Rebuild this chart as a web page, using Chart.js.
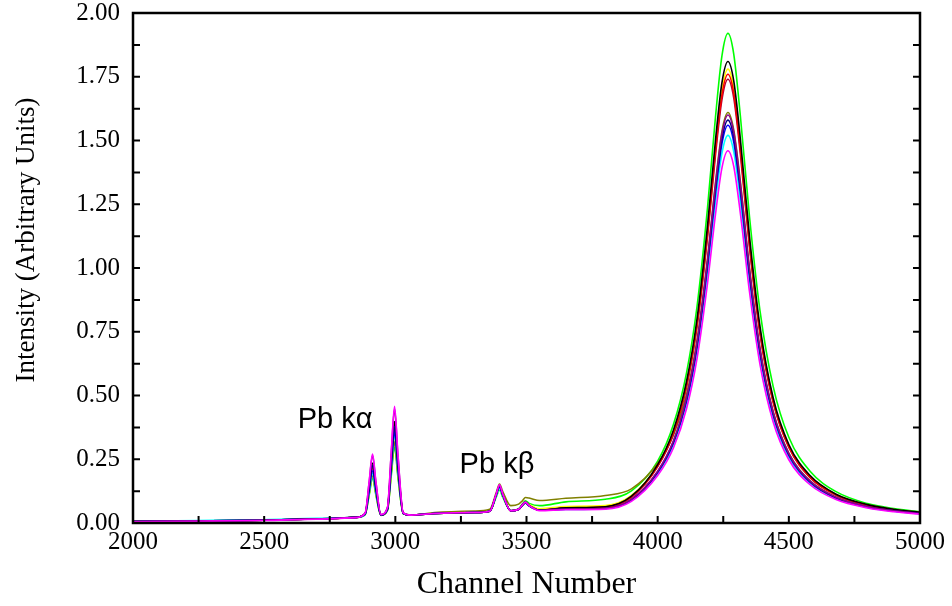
<!DOCTYPE html>
<html>
<head>
<meta charset="utf-8">
<script src="https://cdn.jsdelivr.net/npm/chart.js@4.4.1/dist/chart.umd.min.js"></script>
<style>
  html, body { margin: 0; padding: 0; background: #fff; }
  #wrap { width: 952px; height: 606px; }
</style>
</head>
<body>
<div id="wrap"><canvas id="spectrumChart" width="952" height="606"></canvas></div>
<script>
const channels = [2000, 2250, 2500, 2700, 2850, 2885, 2900, 2913, 2926, 2945,
    2970, 2985, 2997, 3010, 3030, 3060, 3150, 3300, 3360, 3385,
    3397, 3410, 3440, 3470, 3485, 3496, 3510, 3550, 3650, 3800,
    3900, 4000, 4060, 4110, 4150, 4190, 4220, 4245, 4268, 4290,
    4315, 4350, 4390, 4440, 4500, 4580, 4680, 4800, 4900, 5000];

// intensities (arbitrary units), one array per spectrum
const magenta = [.005, .007, .010, .015, .021, .039, .160, .270, .162, .033, .061, .288, .458, .268, .040, .031, .037, .041, .046, .116, .150, .113, .048, .054, .072, .082, .069, .048, .052, .054, .085, .186, .294, .448, .645, .940, 1.207, 1.393, 1.46, 1.399, 1.216, .907, .622, .397, .248, .151, .092, .059, .044, .035];
const purple = [.006, .008, .011, .016, .022, .039, .157, .265, .159, .033, .061, .282, .448, .263, .040, .031, .037, .041, .046, .113, .145, .110, .048, .054, .071, .081, .068, .050, .055, .058, .093, .203, .322, .491, .707, 1.030, 1.323, 1.526, 1.60, 1.533, 1.333, .994, .682, .435, .272, .165, .101, .064, .048, .037];
const navy = [.006, .008, .011, .016, .022, .036, .135, .225, .137, .032, .055, .239, .378, .224, .038, .031, .037, .041, .046, .113, .145, .110, .048, .054, .071, .081, .068, .050, .055, .057, .092, .201, .318, .485, .698, 1.018, 1.307, 1.507, 1.58, 1.514, 1.316, .981, .673, .430, .269, .163, .099, .063, .048, .037];
const black = [.006, .008, .011, .016, .022, .037, .141, .235, .143, .032, .057, .252, .398, .235, .039, .031, .037, .041, .046, .113, .145, .110, .048, .054, .072, .082, .069, .050, .060, .064, .105, .229, .364, .555, .800, 1.166, 1.497, 1.727, 1.81, 1.734, 1.508, 1.124, .771, .492, .308, .187, .113, .072, .054, .042];
const blue = [.006, .008, .011, .016, .022, .035, .124, .205, .126, .031, .053, .227, .358, .212, .038, .031, .037, .041, .046, .110, .140, .107, .048, .053, .070, .079, .067, .050, .054, .057, .091, .198, .314, .478, .690, 1.005, 1.290, 1.488, 1.56, 1.494, 1.299, .969, .665, .424, .265, .161, .098, .063, .047, .037];
const cyan = [.006, .010, .013, .018, .022, .034, .119, .195, .121, .031, .053, .221, .348, .207, .037, .031, .037, .041, .046, .106, .135, .104, .048, .053, .070, .079, .067, .050, .053, .056, .089, .193, .306, .466, .672, .979, 1.257, 1.450, 1.52, 1.456, 1.266, .944, .648, .413, .258, .157, .096, .061, .046, .036];
const red = [.006, .008, .011, .016, .022, .036, .130, .215, .132, .032, .054, .233, .368, .218, .038, .031, .037, .041, .046, .113, .145, .110, .048, .053, .070, .079, .067, .050, .059, .063, .102, .223, .354, .540, .778, 1.133, 1.456, 1.679, 1.76, 1.686, 1.466, 1.093, .750, .479, .299, .181, .110, .070, .052, .041];
const darkRed = [.006, .008, .011, .016, .022, .036, .135, .225, .137, .032, .055, .236, .373, .221, .038, .031, .037, .041, .046, .113, .145, .110, .048, .053, .070, .079, .067, .050, .059, .062, .101, .221, .350, .533, .769, 1.121, 1.439, 1.660, 1.74, 1.667, 1.449, 1.081, .741, .473, .296, .179, .109, .069, .052, .040];
const olive = [.006, .008, .011, .016, .022, .034, .113, .185, .115, .031, .050, .203, .318, .190, .037, .031, .041, .047, .054, .120, .153, .122, .068, .074, .088, .100, .098, .088, .097, .108, .134, .234, .344, .504, .717, 1.037, 1.331, 1.536, 1.61, 1.542, 1.341, 1.000, .686, .438, .274, .166, .101, .064, .048, .038];
const yellow = [.006, .008, .011, .016, .022, .034, .113, .185, .115, .031, .051, .209, .328, .196, .037, .031, .037, .041, .046, .106, .135, .104, .048, .053, .070, .079, .072, .056, .065, .068, .108, .226, .358, .546, .787, 1.146, 1.472, 1.698, 1.78, 1.705, 1.483, 1.105, .758, .484, .303, .184, .112, .071, .053, .041];
const green = [.006, .008, .011, .016, .022, .033, .107, .175, .109, .030, .049, .191, .298, .179, .036, .031, .037, .041, .046, .103, .130, .100, .048, .056, .075, .087, .077, .068, .083, .093, .126, .243, .386, .589, .849, 1.236, 1.588, 1.832, 1.92, 1.839, 1.599, 1.202, .833, .537, .336, .204, .123, .076, .057, .044];

// first one is drawn on top
const spectra = [
    { values: magenta, color: '#ff00ff' },
    { values: purple, color: '#8b008b' },
    { values: navy, color: '#000080' },
    { values: black, color: '#000000' },
    { values: blue, color: '#0000ff' },
    { values: cyan, color: '#00ffff' },
    { values: red, color: '#ff0000' },
    { values: darkRed, color: '#b00030' },
    { values: olive, color: '#808000' },
    { values: yellow, color: '#ffff00' },
    { values: green, color: '#00ff00' }
];

// peak labels: [text, channel, intensity at baseline]
const peakLabels = [
    ['Pb k\u03b1', 2628, 0.372],
    ['Pb k\u03b2', 3245, 0.196]
];

const xTitle = 'Channel Number';
const yTitle = 'Intensity (Arbitrary Units)';

const frameAndTicks = {
    id: 'frameAndTicks',
    afterDraw(chart) {
        const ctx = chart.ctx;
        const area = chart.chartArea;
        const xs = chart.scales.x;
        const ys = chart.scales.y;
        ctx.save();
        ctx.strokeStyle = '#000';
        ctx.lineWidth = 2;
        ctx.beginPath();
        // inward ticks on bottom
        for (let c = 2250; c < 5000; c += 250) {
            const px = xs.getPixelForValue(c);
            ctx.moveTo(px, area.bottom);
            ctx.lineTo(px, area.bottom - 7);
        }
        // inward ticks on left and right
        for (let v = 0.125; v < 2; v += 0.125) {
            const py = ys.getPixelForValue(v);
            ctx.moveTo(area.left, py);
            ctx.lineTo(area.left + 7, py);
            ctx.moveTo(area.right, py);
            ctx.lineTo(area.right - 7, py);
        }
        ctx.stroke();
        ctx.lineWidth = 2.5;
        ctx.strokeRect(area.left, area.top, area.right - area.left, area.bottom - area.top);

        // axis titles
        ctx.fillStyle = '#000';
        ctx.textAlign = 'center';
        ctx.textBaseline = 'alphabetic';
        ctx.font = '32px "Liberation Serif", "Times New Roman", serif';
        ctx.fillText(xTitle, (area.left + area.right) / 2, 593);
        ctx.save();
        ctx.translate(34, 240);
        ctx.rotate(-Math.PI / 2);
        ctx.font = '27px "Liberation Serif", "Times New Roman", serif';
        ctx.fillText(yTitle, 0, 0);
        ctx.restore();

        // peak annotations
        ctx.textAlign = 'left';
        ctx.font = '29px "Liberation Sans", Arial, sans-serif';
        peakLabels.forEach(([text, c, v]) => {
            ctx.fillText(text, xs.getPixelForValue(c), ys.getPixelForValue(v));
        });
        ctx.restore();
    }
};

const ctx = document.getElementById('spectrumChart').getContext('2d');
const spectrumChart = new Chart(ctx, {
    type: 'line',
    data: {
        datasets: spectra.map(s => ({
            data: channels.map((c, i) => ({ x: c, y: s.values[i] })),
            borderColor: s.color,
            borderWidth: 1.6,
            pointRadius: 0,
            fill: false,
            cubicInterpolationMode: 'monotone'
        }))
    },
    options: {
        responsive: false,
        animation: false,
        layout: { padding: { top: 13, right: 31, left: 0, bottom: 0 } },
        plugins: {
            legend: { display: false },
            tooltip: { enabled: false }
        },
        scales: {
            x: {
                type: 'linear',
                min: 2000,
                max: 5000,
                grid: { display: false, drawTicks: false },
                border: { display: false },
                ticks: {
                    stepSize: 500,
                    padding: 7,
                    color: '#000',
                    maxRotation: 0,
                    font: { family: '"Liberation Serif", "Times New Roman", serif', size: 25, lineHeight: 1 },
                    callback: v => String(v)
                },
                afterFit: scale => { scale.height = 83; }
            },
            y: {
                min: 0,
                max: 2,
                grid: { display: false, drawTicks: false },
                border: { display: false },
                ticks: {
                    stepSize: 0.25,
                    padding: 13,
                    color: '#000',
                    font: { family: '"Liberation Serif", "Times New Roman", serif', size: 25, lineHeight: 1 },
                    callback: v => v.toFixed(2)
                },
                afterFit: scale => {
                    scale.width = 133;
                    scale.paddingTop = 0;
                    scale.paddingBottom = 0;
                }
            }
        }
    },
    plugins: [frameAndTicks]
});
</script>
</body>
</html>
